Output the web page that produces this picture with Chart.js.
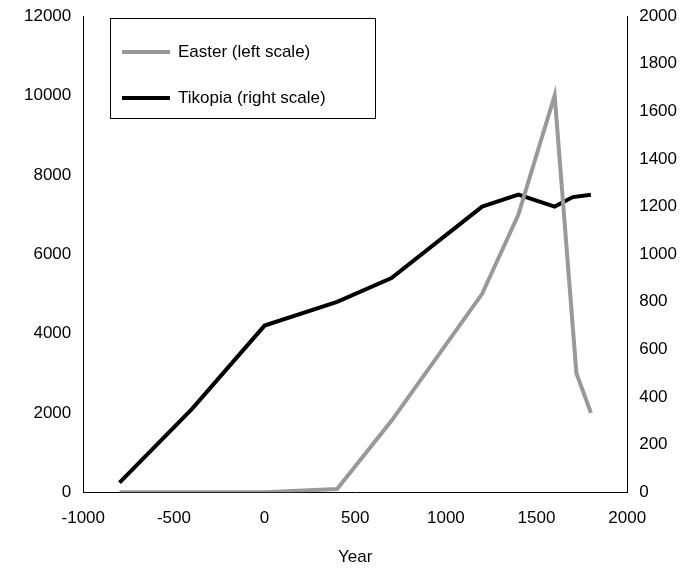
<!DOCTYPE html>
<html><head><meta charset="utf-8">
<script src="https://cdn.jsdelivr.net/npm/chart.js@4"></script>
<style>body{margin:0;background:#fff}</style>
</head><body><canvas id="c" width="691" height="568"></canvas>
<script>
const easterYears = [-800, 0, 400, 700, 1200, 1400, 1600, 1720, 1800];
const easterPop = [0, 0, 80, 1800, 5000, 7000, 10000, 3000, 2000];
const tikopiaYears = [-800, -400, 0, 400, 700, 1200, 1400, 1600, 1700, 1800];
const tikopiaPop = [40, 350, 700, 800, 900, 1200, 1250, 1200, 1240, 1250];
const seriesNames = ["Easter (left scale)", "Tikopia (right scale)"];

const font = {family: "Liberation Sans, Arial", size: 17};
function plain(v){ return String(v); }

var legendBox = {
    id: "legendBox",
    afterDraw: function(chart){
        var ctx = chart.ctx;
        ctx.save();
        ctx.strokeStyle = "#000";
        ctx.lineWidth = 1;
        ctx.strokeRect(110.5, 18.5, 265, 100);
        var cols = ["#999999", "#000000"];
        var ys = [52, 98];
        ctx.font = "17px Liberation Sans, Arial";
        ctx.textBaseline = "middle";
        for (var i = 0; i < 2; i++){
            ctx.strokeStyle = cols[i];
            ctx.lineWidth = 4;
            ctx.beginPath();
            ctx.moveTo(122, ys[i]);
            ctx.lineTo(170, ys[i]);
            ctx.stroke();
            ctx.fillStyle = "#000";
            ctx.fillText(seriesNames[i], 178, ys[i]);
        }
        ctx.restore();
    }
};

new Chart(document.getElementById("c"), {
    type: "line",
    data: {
        datasets: [
            {
                label: seriesNames[0],
                data: easterYears.map(function(x, i){ return {x: x, y: easterPop[i]}; }),
                borderColor: "#999999",
                borderWidth: 4,
                pointRadius: 0,
                tension: 0,
                yAxisID: "y"
            },
            {
                label: seriesNames[1],
                data: tikopiaYears.map(function(x, i){ return {x: x, y: tikopiaPop[i]}; }),
                borderColor: "#000000",
                borderWidth: 4,
                pointRadius: 0,
                tension: 0,
                yAxisID: "y2"
            }
        ]
    },
    options: {
        animation: false,
        responsive: false,
        layout: {padding: {top: 16, right: 8, left: 18, bottom: 0}},
        plugins: {legend: {display: false}, tooltip: {enabled: false}},
        scales: {
            x: {
                type: "linear", min: -1000, max: 2000,
                ticks: {stepSize: 500, color: "#000", font: font, maxRotation: 0, padding: 10, callback: plain},
                grid: {display: false, tickLength: 6},
                border: {color: "#000"},
                title: {display: true, text: "Year", color: "#000", font: font, padding: {top: 9, bottom: 0}}
            },
            y: {
                position: "left", min: 0, max: 12000,
                ticks: {stepSize: 2000, color: "#000", font: font, padding: 6, callback: plain},
                grid: {display: false, tickLength: 6},
                border: {color: "#000"}
            },
            y2: {
                position: "right", min: 0, max: 2000,
                ticks: {stepSize: 200, color: "#000", font: font, padding: 6, callback: plain},
                grid: {display: false, tickLength: 6},
                border: {color: "#000"}
            }
        }
    },
    plugins: [legendBox]
});
</script>
</body></html>
